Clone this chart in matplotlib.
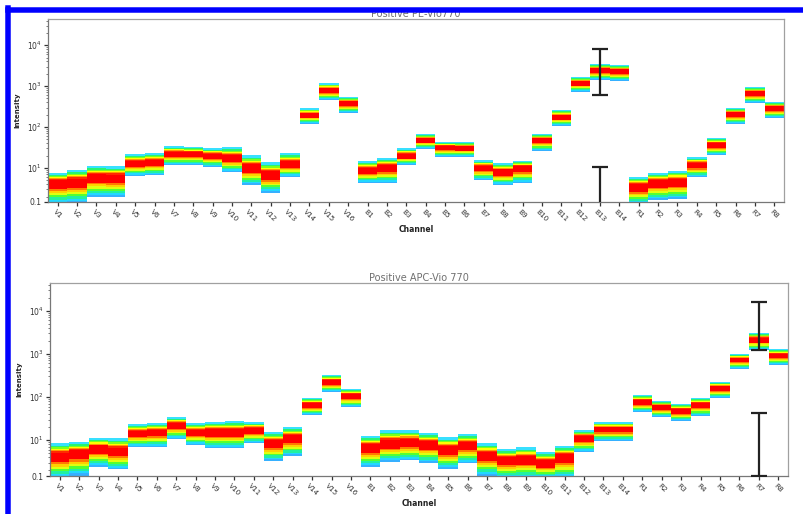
import numpy as np
import matplotlib
matplotlib.use("Agg")
import matplotlib.pyplot as plt
from matplotlib.lines import Line2D
from matplotlib.ticker import FixedLocator, LogLocator, NullFormatter

# ---------------- data ----------------
channels = [f"V{i}" for i in range(1, 17)] + [f"B{i}" for i in range(1, 15)] + [f"R{i}" for i in range(1, 9)]

# Positive PE-Vio770 : median, lower edge, upper edge of the intensity distribution
pe_mid = [4.3, 4.6, 6.0, 5.8, 13.2, 14.0, 21.9, 21.9, 19.6, 17.5, 10.0, 6.7, 12.5,
          196, 798, 385,
          8.9, 10.0, 19.6, 48.2, 32.5, 30.8, 10.0, 8.0, 10.0, 48.2, 175, 1183, 2455, 2323,
          3.4, 4.3, 4.6, 11.8, 36.4, 208, 675, 290]
pe_lo = [1.3, 1.4, 1.96, 2.0, 6.4, 6.7, 11.8, 11.8, 10.6, 8.0, 3.85, 2.46, 6.0,
         118, 456, 219,
         4.3, 4.3, 11.8, 29.1, 18.5, 18.5, 5.1, 3.85, 4.3, 26.0, 106, 714, 1400, 1324,
         1.3, 1.66, 1.75, 6.0, 20.7, 118, 385, 166]
pe_hi = [7.6, 8.9, 11.2, 11.0, 21.9, 23.2, 34.4, 32.5, 30.8, 32.5, 20.7, 14.0, 23.2,
         290, 1183, 540,
         14.8, 17.5, 30.8, 67.5, 43.0, 43.0, 15.7, 13.2, 14.8, 67.5, 260, 1660, 3443, 3250,
         6.0, 7.6, 8.5, 18.5, 54.0, 290, 946, 407]
pe_err_ch = ["B13", "B13"]
pe_err_lo = [603, 1.2]
pe_err_hi = [7980, 10.6]

# Positive APC-Vio 770
apc_mid = [4.25, 5.0, 6.5, 5.55, 14.6, 15.4, 22.3, 15.4, 15.4, 15.4, 17.1, 8.5, 11.1,
           65, 223, 105,
           6.9, 8.5, 9.0, 8.1, 6.2, 7.7, 4.5, 3.4, 3.6, 2.9, 4.0, 11.1, 18.0, 18.0,
           77, 58, 47, 65, 162, 725, 2120, 898]
apc_lo = [1.3, 1.5, 2.36, 2.1, 6.9, 6.9, 10.5, 7.7, 6.5, 6.5, 8.5, 3.25, 4.25,
          38, 131, 58,
          2.36, 3.1, 3.4, 2.9, 2.1, 2.9, 1.5, 1.3, 1.3, 1.3, 1.3, 5.3, 9.5, 9.5,
          45, 34.3, 27.7, 36, 95, 448, 1240, 555]
apc_hi = [8.5, 9.0, 11.1, 11.1, 23.6, 24.8, 34.3, 24.8, 26.2, 27.7, 26.2, 15.4, 20.0,
          95, 325, 153,
          12.4, 17.1, 17.1, 14.6, 11.7, 13.8, 8.5, 6.2, 6.9, 5.3, 7.25, 17.1, 26.2, 26.2,
          111, 81, 69, 95, 223, 1000, 3080, 1306]
apc_err_ch = ["R7", "R7"]
apc_err_lo = [1240, 1.48]
apc_err_hi = [16200, 42.5]

y_ticks = [10, 100, 1000, 10000]
y_tick_labels = ["$10^{1}$", "$10^{2}$", "$10^{3}$", "$10^{4}$"]
y_bottom_label = "0.1"

# ---------------- style ----------------
W, H = 804, 514
fig = plt.figure(figsize=(W / 100, H / 100), dpi=100)
fig.patch.set_facecolor("white")

YMIN, YMAX = 10 ** 0.17, 10 ** 4.64

# (fraction of half-spread, colour above median, colour below median)
levels = [
    (1.00, "#38e0ff", "#36b0ff"),
    (0.90, "#38e0ff", "#22d8ff"),
    (0.80, "#28f56e", "#22f0a0"),
    (0.68, "#7dff1c", "#55ff30"),
    (0.58, "#ffff00", "#e0ff10"),
    (0.47, "#ff9a00", "#ffd000"),
    (0.37, "#ff2a00", "#ff7a00"),
    (0.28, "#ff0000", "#ff0000"),
]


def draw_panel(ax, title, mid, lo, hi, err_ch, err_lo, err_hi):
    x = np.arange(len(channels))
    lm = np.log10(mid)
    llo = np.log10(lo)
    lhi = np.log10(hi)
    for f, ctop, cbot in levels:
        top = 10 ** (lm + f * (lhi - lm))
        bot = 10 ** (lm - f * (lm - llo))
        ax.bar(x, top - np.array(mid), bottom=mid, width=1.0, color=ctop, linewidth=0, zorder=2)
        ax.bar(x, np.array(mid) - bot, bottom=bot, width=1.0, color=cbot, linewidth=0, zorder=2)
    ex = [channels.index(c) for c in err_ch]
    elo = np.array(err_lo)
    ehi = np.array(err_hi)
    ax.errorbar(ex, elo, yerr=[np.zeros_like(elo), ehi - elo], fmt="none",
                ecolor="#222222", elinewidth=1.6, capsize=5.5, capthick=1.6, zorder=5)

    ax.set_yscale("log")
    ax.set_ylim(YMIN, YMAX)
    ax.set_xlim(-0.5, len(channels) - 0.5)
    ax.set_xticks(x)
    ax.set_xticklabels(channels, rotation=-45, ha="center", va="top", fontsize=5.2, color="#333333")
    ax.yaxis.set_major_locator(FixedLocator([YMIN] + y_ticks))
    ax.set_yticklabels([y_bottom_label] + y_tick_labels, fontsize=5.5, color="#333333")
    ax.yaxis.set_minor_locator(LogLocator(base=10, subs=np.arange(2, 10)))
    ax.yaxis.set_minor_formatter(NullFormatter())
    ax.tick_params(axis="both", which="major", length=3, width=0.9, color="#333333", pad=1.5)
    ax.tick_params(axis="y", which="minor", length=1.5, width=0.6, color="#666666")
    for s in ax.spines.values():
        s.set_color("#a0a0a0")
        s.set_linewidth(0.9)
    ax.spines["left"].set_color("#777777")
    ax.spines["bottom"].set_color("#777777")
    ax.set_title(title, fontsize=7, color="#707070", pad=1.5)
    ax.set_xlabel("Channel", fontsize=5.5, fontweight="bold", color="#222222", labelpad=2)
    ax.set_ylabel("Intensity", fontsize=5, fontweight="bold", color="#222222")


ax1 = fig.add_axes([48 / W, 1 - 202 / H, 736 / W, 183 / H])
draw_panel(ax1, "Positive PE-Vio770", pe_mid, pe_lo, pe_hi, pe_err_ch, pe_err_lo, pe_err_hi)
ax1.yaxis.set_label_coords(-0.038, 0.5)

ax2 = fig.add_axes([50 / W, 1 - 476 / H, 738 / W, 193 / H])
draw_panel(ax2, "Positive APC-Vio 770", apc_mid, apc_lo, apc_hi, apc_err_ch, apc_err_lo, apc_err_hi)
ax2.yaxis.set_label_coords(-0.038, 0.5)

# blue frame (left and top edges)
lw = 5.5 * 72 / 100
fig.add_artist(Line2D([8 / W, 8 / W], [0, 1 - 7.5 / H], color="#0000ff", lw=lw,
                      transform=fig.transFigure, zorder=10, solid_capstyle="projecting"))
fig.add_artist(Line2D([8 / W, 1], [1 - 9.5 / H, 1 - 9.5 / H], color="#0000ff", lw=lw,
                      transform=fig.transFigure, zorder=10, solid_capstyle="projecting"))

fig.savefig("out.png", dpi=100, facecolor="white")
